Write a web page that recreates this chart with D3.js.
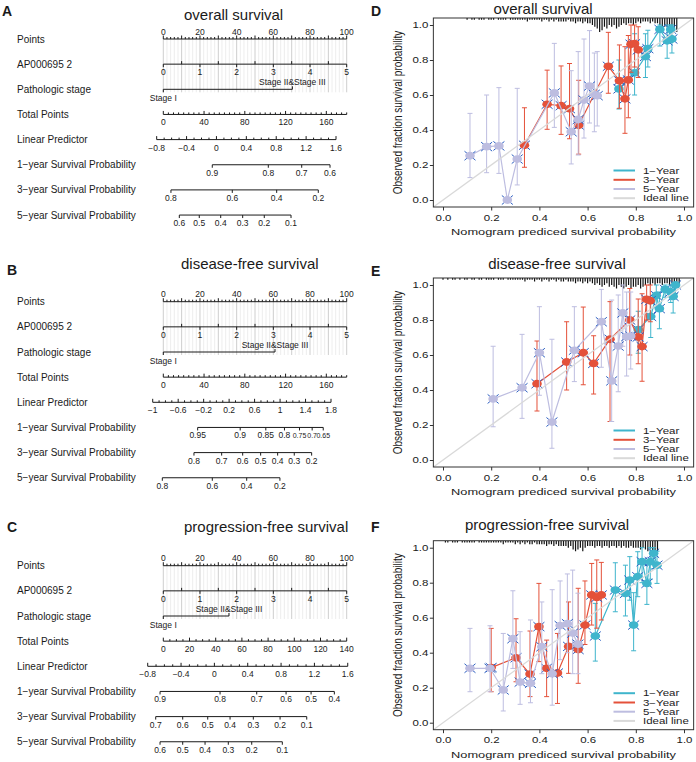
<!DOCTYPE html>
<html><head><meta charset="utf-8">
<script src="https://cdn.jsdelivr.net/npm/d3@7"></script>
<style>
html,body{margin:0;padding:0;background:#fff;}
svg{display:block;}
</style></head>
<body>
<svg id="chart" width="696" height="762"></svg>
<script>
// ================= DATA =================
// ---- Nomograms (A, B, C) ----
const nomoTitles = ["overall survival", "disease-free survival", "progression-free survival"];
const nomoLetters = ["A", "B", "C"];
const rowLabels = ["Points", "AP000695 2", "Pathologic stage", "Total Points", "Linear Predictor",
  "1\u2212year Survival Probability", "3\u2212year Survival Probability", "5\u2212year Survival Probability"];
const pointsLabels = [0, 20, 40, 60, 80, 100];
const apLabels = [0, 1, 2, 3, 4, 5];
const apTicks = [0, 0.5, 1, 1.5, 2, 2.5, 3, 3.5, 4, 4.5, 5];
const apMaxPoints = 100;
const stageLabels = ["Stage I", "Stage II&Stage III"];
const stagePoints = [[0, 70.4], [0, 60.9], [0, 35.8]];
const totalMax = [180, 180, 140];
const totalLabels = [[0, 40, 80, 120, 160], [0, 40, 80, 120, 160], [0, 20, 40, 60, 80, 100, 120, 140]];
const lpLabels = [[-0.8, -0.4, 0, 0.4, 0.8, 1.2, 1.6], [-1, -0.6, -0.2, 0.2, 0.6, 1, 1.4, 1.8], [-0.8, -0.4, 0, 0.4, 0.8, 1.2, 1.6]];
const lpAnchorLP = [[-0.8, 1.6], [-1, 1.8], [-0.8, 1.6]];
const lpAnchorTP = [[-6.5, 169.5], [-10.4, 164.6], [-11.9, 140.8]];
const surv1Labels = [[0.9, 0.8, 0.7, 0.6], [0.95, 0.9, 0.85, 0.8, 0.75, 0.7, 0.65], [0.9, 0.8, 0.7, 0.6, 0.5, 0.4]];
const surv1LP = [[-0.056, 0.694, 1.141, 1.52], [-0.294, 0.374, 0.776, 1.069, 1.305, 1.504, 1.678], [-0.652, 0.068, 0.508, 0.86, 1.16, 1.439]];
const surv3Labels = [[0.8, 0.6, 0.4, 0.2], [0.8, 0.7, 0.6, 0.5, 0.4, 0.3, 0.2], [0.7, 0.6, 0.5, 0.4, 0.3, 0.2, 0.1]];
const surv3LP = [[-0.609, 0.212, 0.806, 1.363], [-0.352, 0.083, 0.413, 0.695, 0.962, 1.223, 1.496], [-0.704, -0.38, -0.08, 0.188, 0.467, 0.788, 1.108]];
const surv5Labels = [[0.6, 0.5, 0.4, 0.3, 0.2, 0.1], [0.8, 0.6, 0.4, 0.2], [0.6, 0.5, 0.4, 0.3, 0.2, 0.1]];
const surv5LP = [[-0.497, -0.23, 0.057, 0.351, 0.64, 0.998], [-0.849, -0.064, 0.476, 0.998], [-0.652, -0.38, -0.112, 0.167, 0.448, 0.815]];

// ---- Calibration curves (D, E, F) ----
const calTitles = ["overall survival", "disease-free survival", "progression-free survival"];
const calLetters = ["D", "E", "F"];
const legendNames = ["1\u2212Year", "3\u2212Year", "5\u2212Year", "Ideal line"];
const axisTicks = [0, 0.2, 0.4, 0.6, 0.8, 1.0];
const xTitle = "Nomogram prediced survival probability";
const yTitle = "Observed fraction survival probability";

// D: overall survival
const osY1x  = [0.73, 0.795, 0.84, 0.85, 0.90, 0.93, 0.945, 0.95];
const osY1y  = [0.635, 0.727, 0.82, 0.865, 0.975, 0.91, 0.975, 0.92];
const osY1lo = [0.52, 0.60, 0.70, 0.76, 0.88, 0.81, 0.90, 0.84];
const osY1hi = [0.80, 0.95, 0.95, 0.97, 1.0, 1.0, 1.0, 1.0];
const osY3x  = [0.338, 0.432, 0.49, 0.525, 0.563, 0.686, 0.732, 0.755, 0.769, 0.78, 0.795, 0.81];
const osY3y  = [0.313, 0.547, 0.539, 0.522, 0.427, 0.764, 0.682, 0.578, 0.686, 0.89, 0.893, 0.858];
const osY3lo = [0.187, 0.404, 0.375, 0.35, 0.262, 0.61, 0.524, 0.381, 0.47, 0.73, 0.76, 0.70];
const osY3hi = [0.527, 0.742, 0.766, 0.78, 0.684, 0.958, 0.886, 0.876, 0.94, 1.0, 1.0, 0.99];
const osY5x  = [0.112, 0.181, 0.232, 0.267, 0.308, 0.462, 0.532, 0.561, 0.585, 0.608, 0.628, 0.64];
const osY5y  = [0.253, 0.305, 0.309, 0.0, 0.234, 0.612, 0.39, 0.46, 0.571, 0.651, 0.604, 0.596];
const osY5lo = [0.128, 0.156, 0.152, 0.0, 0.086, 0.415, 0.206, 0.257, 0.354, 0.44, 0.39, 0.423];
const osY5hi = [0.495, 0.60, 0.642, 0.0, 0.638, 0.895, 0.739, 0.848, 0.92, 0.968, 0.84, 0.848];

// E: disease-free survival
const dfsY1x  = [0.81, 0.862, 0.885, 0.898, 0.922, 0.945, 0.955, 0.965];
const dfsY1y  = [0.745, 0.82, 0.94, 0.865, 0.975, 0.96, 0.935, 1.0];
const dfsY1lo = [0.61, 0.70, 0.87, 0.75, 0.93, 0.90, 0.84, 0.95];
const dfsY1hi = [0.85, 0.93, 1.0, 0.96, 1.0, 1.0, 1.0, 1.0];
const dfsY3x  = [0.39, 0.513, 0.582, 0.625, 0.693, 0.775, 0.81, 0.826, 0.845, 0.86];
const dfsY3y  = [0.436, 0.56, 0.613, 0.552, 0.69, 0.80, 0.703, 0.648, 0.918, 0.91];
const dfsY3lo = [0.28, 0.40, 0.43, 0.377, 0.22, 0.60, 0.55, 0.45, 0.80, 0.79];
const dfsY3hi = [0.68, 0.79, 0.874, 0.71, 0.905, 0.98, 0.92, 0.95, 1.0, 1.0];
const dfsY5x  = [0.208, 0.328, 0.40, 0.452, 0.545, 0.657, 0.70, 0.727, 0.746, 0.762, 0.779];
const dfsY5y  = [0.349, 0.413, 0.613, 0.217, 0.627, 0.79, 0.452, 0.651, 0.84, 0.705, 0.708];
const dfsY5lo = [0.19, 0.238, 0.37, 0.067, 0.448, 0.53, 0.22, 0.39, 0.65, 0.48, 0.52];
const dfsY5hi = [0.65, 0.718, 0.876, 0.69, 0.876, 0.975, 0.914, 0.943, 1.0, 0.96, 0.96];

// F: progression-free survival
const pfsY1x  = [0.632, 0.715, 0.757, 0.775, 0.791, 0.808, 0.826, 0.846, 0.86, 0.874, 0.888];
const pfsY1y  = [0.495, 0.758, 0.739, 0.815, 0.558, 0.834, 0.92, 0.796, 0.92, 0.968, 0.90];
const pfsY1lo = [0.352, 0.634, 0.61, 0.70, 0.411, 0.72, 0.80, 0.676, 0.82, 0.88, 0.796];
const pfsY1hi = [0.682, 0.914, 0.90, 0.949, 0.743, 0.977, 1.0, 0.90, 1.0, 1.0, 0.98];
const pfsY3x  = [0.20, 0.303, 0.361, 0.398, 0.43, 0.475, 0.521, 0.561, 0.589, 0.617, 0.638, 0.657];
const pfsY3y  = [0.315, 0.371, 0.278, 0.549, 0.311, 0.284, 0.436, 0.418, 0.558, 0.73, 0.716, 0.73];
const pfsY3lo = [0.177, 0.234, 0.149, 0.349, 0.149, 0.11, 0.282, 0.225, 0.447, 0.558, 0.54, 0.587];
const pfsY3hi = [0.539, 0.594, 0.524, 0.796, 0.472, 0.51, 0.69, 0.768, 0.81, 0.91, 0.93, 0.916];
const pfsY5x  = [0.112, 0.195, 0.25, 0.29, 0.32, 0.363, 0.41, 0.453, 0.486, 0.516, 0.538, 0.56];
const pfsY5y  = [0.311, 0.311, 0.187, 0.48, 0.232, 0.225, 0.434, 0.28, 0.555, 0.566, 0.512, 0.449];
const pfsY5lo = [0.177, 0.177, 0.067, 0.31, 0.105, 0.114, 0.28, 0.10, 0.36, 0.40, 0.28, 0.28];
const pfsY5hi = [0.539, 0.554, 0.51, 0.754, 0.52, 0.587, 0.69, 0.76, 0.81, 0.85, 0.872, 0.74];

// Distribution of predicted values (spike histogram along the top), per 0.01 bin
const rugStart = [0.10, 0.00, 0.01];
const rugStep = 0.01;
const osRug = [1,0,1,1,0,1,1,1,0,1, 1,1,0,1,1,1,1,0,1,1, 1,1,1,1,1,2,1,1,1,1, 1,2,1,1,2,1,2,1,2,2,
  2,2,1,2,2,3,2,2,3,2, 3,3,4,5,6,8,7,5,6,4, 5,4,6,5,4,3,4,3,3,4, 3,2,3,2,2,2,3,2,3,3, 4,5,5,5,6,7,8,8];
const dfsRug = [1,0,1,0,1,1,0,1,0,1, 1,0,1,1,0,1,1,0,1,1, 1,1,0,1,1,1,0,1,1,1, 1,1,1,1,2,1,1,1,2,1,
  1,2,1,1,2,1,1,2,1,2, 2,1,2,2,2,3,2,2,3,2, 3,2,3,4,3,4,5,4,3,5, 4,5,6,4,5,6,5,4,6,5,
  5,4,6,5,4,3,4,3,4,3, 3,4,3,3,4,3,4,3,4];
const pfsRug = [1,1,0,1,1,1,0,1,1,1, 1,1,1,0,1,1,1,1,1,1, 1,1,1,1,2,1,1,1,1,2, 1,2,1,2,1,2,2,1,2,2,
  2,2,3,2,2,3,2,3,3,3, 3,4,3,5,6,5,4,6,4,3, 3,3,4,3,3,4,3,3,4,3, 3,4,3,4,3,4,4,3,4,4,
  4,5,4,5,6,5,6,7,6];

// ================= DRAWING =================
const FONT = "Arial, 'Liberation Sans', Helvetica, sans-serif";
const INK = "#1a1a1a";
const svg = d3.select("#chart").attr("font-family", FONT);
svg.append("rect").attr("width", 696).attr("height", 762).attr("fill", "#fff");

function seg(g, x1, y1, x2, y2, col, w) {
  return g.append("line").attr("x1", x1).attr("y1", y1).attr("x2", x2).attr("y2", y2)
    .attr("stroke", col || INK).attr("stroke-width", w || 1);
}
function txt(g, x, y, t, size, anchor) {
  return g.append("text").attr("x", x).attr("y", y).attr("font-size", size)
    .attr("text-anchor", anchor || "middle").attr("fill", INK).text(t);
}
const fmtLP = d => d < 0 ? "\u2212" + Math.abs(d) : String(d);

// ---- Nomograms ----
const nomoLayout = [
  { top: 0,     letterX: 2, letterY: 16,  titleX: 184, titleY: 20 },
  { top: 262.7, letterX: 7, letterY: 275, titleX: 181, titleY: 268.5 },
  { top: 526.7, letterX: 7, letterY: 532, titleX: 184, titleY: 532 }
];
const ptsX = d3.scaleLinear([0, 100], [163.3, 346.7]);

nomoLayout.forEach((L, k) => {
  const g = svg.append("g");
  const rowY = i => L.top + 39 + i * 25.15;
  txt(g, L.letterX, L.letterY, nomoLetters[k], 14, "start").attr("font-weight", "bold");
  txt(g, L.titleX, L.titleY, nomoTitles[k], 15, "start");
  rowLabels.forEach((r, i) => txt(g, 17, rowY(i) + 3.5, r, 10, "start"));

  // grid lines
  const gTop = rowY(0), gBot = rowY(2) + 3;
  const gridVals = d3.range(0, 101, 2);
  gridVals.filter(v => v % 10 !== 0).forEach(v => seg(g, ptsX(v), gTop, ptsX(v), gBot, "#ebebeb", 0.9));
  gridVals.filter(v => v % 10 === 0).forEach(v => seg(g, ptsX(v), gTop, ptsX(v), gBot, "#c8c8c8", 0.9));

  // Points
  let y = rowY(0);
  seg(g, ptsX(0), y, ptsX(100), y);
  gridVals.forEach(v => seg(g, ptsX(v), y, ptsX(v), y - (v % 10 === 0 ? 3.5 : 2)));
  pointsLabels.forEach(v => txt(g, ptsX(v), y - 4.3, String(v), 8.5));

  // AP000695 2
  y = rowY(1);
  const apX = d3.scaleLinear([0, 5], [ptsX(0), ptsX(apMaxPoints)]);
  seg(g, apX(0), y, apX(5), y);
  apTicks.forEach(v => seg(g, apX(v), y, apX(v), y + (Number.isInteger(v) ? 3 : -3)));
  apLabels.forEach(v => txt(g, apX(v), y + 11, String(v), 8.5));

  // Pathologic stage
  y = rowY(2);
  const sp = stagePoints[k];
  seg(g, ptsX(sp[0]), y, ptsX(sp[1]), y);
  seg(g, ptsX(sp[0]), y, ptsX(sp[0]), y + 3);
  seg(g, ptsX(sp[1]), y, ptsX(sp[1]), y - 3);
  txt(g, ptsX(sp[0]), y + 11.5, stageLabels[0], 8.5);
  txt(g, ptsX(sp[1]), y - 4.3, stageLabels[1], 8.5);

  // Total points
  y = rowY(3);
  const tX = d3.scaleLinear([0, totalMax[k]], [163.3, 346.7]);
  seg(g, tX(0), y, tX(totalMax[k]), y);
  d3.range(0, totalMax[k] + 1, 5).forEach(v =>
    seg(g, tX(v), y, tX(v), y - (totalLabels[k].includes(v) ? 3.5 : 2)));
  totalLabels[k].forEach(v => txt(g, tX(v), y + 11, String(v), 8.5));

  // Linear predictor
  y = rowY(4);
  const lpTP = d3.scaleLinear(lpAnchorLP[k], lpAnchorTP[k]);
  const lpX = v => tX(lpTP(v));
  const [l0, l1] = lpAnchorLP[k];
  seg(g, lpX(l0), y, lpX(l1), y);
  d3.range(Math.round(l0 * 10), Math.round(l1 * 10) + 1).forEach(i => {
    const v = i / 10;
    const major = lpLabels[k].some(l => Math.abs(l - v) < 1e-9);
    seg(g, lpX(v), y, lpX(v), y - (major ? 3.5 : 2));
  });
  lpLabels[k].forEach(v => txt(g, lpX(v), y + 11, fmtLP(v), 8.5));

  // Survival probability rows (tightly spaced labels use slightly smaller type)
  [[surv1Labels, surv1LP], [surv3Labels, surv3LP], [surv5Labels, surv5LP]].forEach(([labs, lps], j) => {
    const yy = rowY(5 + j);
    const xsP = lps[k].map(lpX);
    seg(g, d3.min(xsP), yy, d3.max(xsP), yy);
    xsP.forEach((x, i) => {
      seg(g, x, yy, x, yy + 3);
      const lab = String(labs[k][i]);
      const gapL = i > 0 ? x - xsP[i - 1] : 99, gapR = i < xsP.length - 1 ? xsP[i + 1] - x : 99;
      const tight = Math.min(gapL, gapR) < 14;
      txt(g, x, yy + 11, lab, tight ? 7 : 8.5);
    });
  });
});

// ---- Calibration plots ----
const SX = 1.35;
const COL = { y1: "#3FB5CC", y3: "#E4513A", y5: "#BDBDE0", ideal: "#D9D9D9", cross: "#2B5FC2", rug: "#111" };
const calData = [
  [{ x: osY1x, y: osY1y, lo: osY1lo, hi: osY1hi, c: COL.y1 },
   { x: osY3x, y: osY3y, lo: osY3lo, hi: osY3hi, c: COL.y3 },
   { x: osY5x, y: osY5y, lo: osY5lo, hi: osY5hi, c: COL.y5 }],
  [{ x: dfsY1x, y: dfsY1y, lo: dfsY1lo, hi: dfsY1hi, c: COL.y1 },
   { x: dfsY3x, y: dfsY3y, lo: dfsY3lo, hi: dfsY3hi, c: COL.y3 },
   { x: dfsY5x, y: dfsY5y, lo: dfsY5lo, hi: dfsY5hi, c: COL.y5 }],
  [{ x: pfsY1x, y: pfsY1y, lo: pfsY1lo, hi: pfsY1hi, c: COL.y1 },
   { x: pfsY3x, y: pfsY3y, lo: pfsY3lo, hi: pfsY3hi, c: COL.y3 },
   { x: pfsY5x, y: pfsY5y, lo: pfsY5lo, hi: pfsY5hi, c: COL.y5 }]
];
const rugCounts = [osRug, dfsRug, pfsRug];
const calLayout = [
  { y0: 200,   titleX: 543, titleY: 13.5,  letterY: 15.5 },
  { y0: 460,   titleX: 557, titleY: 268.5, letterY: 275.5 },
  { y0: 722.7, titleX: 547, titleY: 530,   letterY: 532 }
];
const legendColors = [COL.y1, COL.y3, COL.y5, COL.ideal];
const legendDY = [-36.5, -27.2, -18, -8.8];

calLayout.forEach((L, k) => {
  const g = svg.append("g");
  const xs = d3.scaleLinear([0, 1], [443, 684]);
  const ys = d3.scaleLinear([0, 1], [L.y0, L.y0 - 175]);
  const bx0 = xs(-0.04), bx1 = xs(1.04), by0 = ys(-0.04), by1 = ys(1.04);

  g.append("text").attr("x", 371).attr("y", L.letterY).attr("font-size", 14)
    .attr("font-weight", "bold").attr("fill", INK).text(calLetters[k]);
  g.append("text").attr("x", L.titleX).attr("y", L.titleY).attr("font-size", 15)
    .attr("text-anchor", "middle").attr("fill", INK).text(calTitles[k]);

  const clipId = "clip" + k;
  g.append("clipPath").attr("id", clipId).append("rect")
    .attr("x", bx0).attr("y", by1).attr("width", bx1 - bx0).attr("height", by0 - by1);
  const inner = g.append("g").attr("clip-path", `url(#${clipId})`);

  // spike histogram of predictions
  rugCounts[k].forEach((c, i) => {
    if (!c) return;
    const v = rugStart[k] + i * rugStep;
    seg(inner, xs(v), by1, xs(v), by1 + c * 1.75, COL.rug, 1.2);
  });

  // series
  calData[k].forEach(s => {
    const pts = s.x.map((x, i) => ({ x, y: s.y[i], lo: s.lo[i], hi: s.hi[i] }));
    inner.append("path")
      .attr("d", d3.line().x(d => xs(d.x)).y(d => ys(d.y))(pts))
      .attr("fill", "none").attr("stroke", s.c).attr("stroke-width", 1.2);
    pts.forEach(d => {
      const x = xs(d.x);
      seg(inner, x, ys(d.lo), x, ys(d.hi), s.c, 1);
      seg(inner, x - 2.5, ys(d.lo), x + 2.5, ys(d.lo), s.c, 1);
      seg(inner, x - 2.5, ys(d.hi), x + 2.5, ys(d.hi), s.c, 1);
    });
    // bias-corrected crosses, then observed points on top
    pts.forEach(d => {
      const x = xs(d.x), y = ys(d.y);
      seg(inner, x - 5.5, y - 4.5, x + 5.5, y + 4.5, COL.cross, 1);
      seg(inner, x - 5.5, y + 4.5, x + 5.5, y - 4.5, COL.cross, 1);
    });
    pts.forEach(d => {
      inner.append("ellipse").attr("cx", xs(d.x)).attr("cy", ys(d.y))
        .attr("rx", 4.8).attr("ry", 3.9).attr("fill", s.c);
    });
  });

  // ideal line
  seg(inner, xs(-0.04), ys(-0.04), xs(1.04), ys(1.04), COL.ideal, 1.3);

  // box
  g.append("rect").attr("x", bx0).attr("y", by1).attr("width", bx1 - bx0).attr("height", by0 - by1)
    .attr("fill", "none").attr("stroke", "#333").attr("stroke-width", 1);

  // axes
  const ax = g.append("g").attr("transform", `translate(0,${by0})`)
    .call(d3.axisBottom(xs).tickValues(axisTicks).tickFormat(d3.format(".1f")).tickSize(3.5).tickPadding(4));
  ax.select(".domain").remove();
  ax.selectAll("line").attr("stroke", "#333");
  ax.selectAll("text").attr("font-size", 8.5).attr("fill", INK).attr("font-family", FONT)
    .attr("transform", `scale(${SX},1)`);

  const ay = g.append("g").attr("transform", `translate(${bx0},0)`)
    .call(d3.axisLeft(ys).tickValues(axisTicks).tickFormat(d3.format(".1f")).tickSize(3.5));
  ay.select(".domain").remove();
  ay.selectAll("line").attr("stroke", "#333");
  ay.selectAll("text").attr("font-size", 8.5).attr("fill", INK).attr("font-family", FONT)
    .attr("x", -5 / SX).attr("transform", `scale(${SX},1)`);

  // axis titles
  g.append("text").attr("transform", `translate(${(bx0 + bx1) / 2},${by0 + 28}) scale(${SX},1)`)
    .attr("text-anchor", "middle").attr("font-size", 9.5).attr("fill", INK).text(xTitle);
  g.append("text").attr("transform", `translate(397.5,${(by0 + by1) / 2}) scale(${SX},1) rotate(-90)`)
    .attr("text-anchor", "middle").attr("dy", "0.35em").attr("font-size", 10).attr("fill", INK).text(yTitle);

  // legend
  legendNames.forEach((n, i) => {
    const yy = by0 + legendDY[i];
    seg(g, 613.5, yy, 635, yy, legendColors[i], 2);
    g.append("text").attr("transform", `translate(643,${yy + 3}) scale(${SX},1)`)
      .attr("font-size", 8.5).attr("fill", INK).text(n);
  });
});
</script>
</body></html>
